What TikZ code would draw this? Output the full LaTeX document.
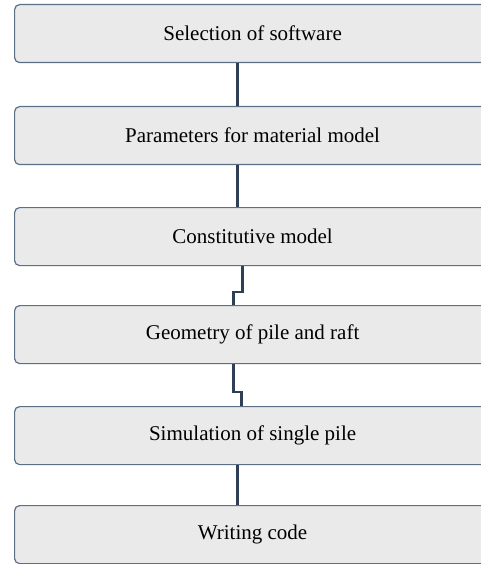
\documentclass[tikz,border=0pt]{standalone}
\usepackage{fontspec}
\setmainfont{Liberation Serif}
\definecolor{boxfill}{HTML}{EAEAEA}
\definecolor{boxline}{HTML}{5B6F87}
\definecolor{linkline}{HTML}{2F3F56}
\begin{document}
\begin{tikzpicture}[x=1pt, y=-1pt,
		stepbox/.style={draw=boxline, line width=1.2pt, fill=boxfill, rounded corners=5pt,
			minimum width=476pt, minimum height=58pt, anchor=north west, font=\fontsize{21}{25}\selectfont},
		link/.style={draw=linkline, line width=2.4pt}]
		\useasboundingbox (0,0) rectangle (481,564);
		\clip (0,0) rectangle (481,564);
		\node[stepbox] (b1) at (14,4) {Selection of software};
		\node[stepbox] (b2) at (14,106) {Parameters for material model};
		\node[stepbox] (b3) at (14,207) {Constitutive model};
		\node[stepbox] (b4) at (14,305) {Geometry of pile and raft};
		\node[stepbox] (b5) at (14,406) {Simulation of single pile};
		\node[stepbox] (b6) at (14,505) {Writing code};
		\draw[link] ([xshift=-15pt]b1.south) -- ([xshift=-15pt]b2.north);
		\draw[link] ([xshift=-15pt]b2.south) -- ([xshift=-15pt]b3.north);
		\draw[link] ([xshift=-10pt]b3.south) -- ++(0,26) -| ([xshift=-19pt]b4.north);
		\draw[link] ([xshift=-19pt]b4.south) -- ++(0,28) -| ([xshift=-11pt]b5.north);
		\draw[link] ([xshift=-15pt]b5.south) -- ([xshift=-15pt]b6.north);
	\end{tikzpicture}
\end{document}
